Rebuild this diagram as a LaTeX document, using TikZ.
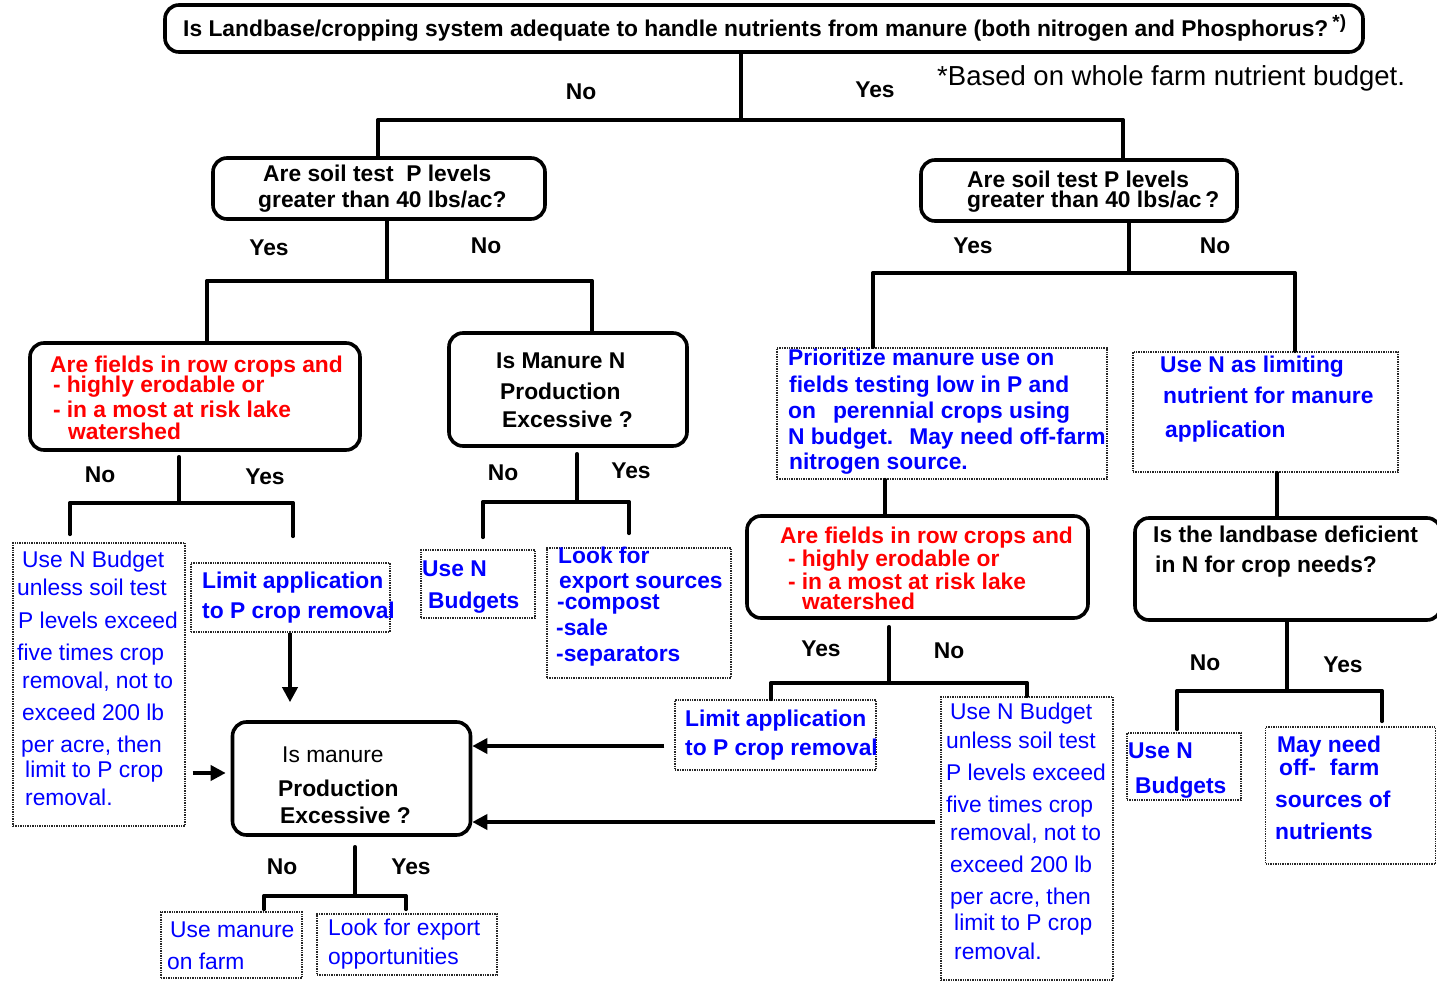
\documentclass[tikz,border=0pt]{standalone}
\usepackage{fontspec}
\setmainfont{Liberation Sans}
\usetikzlibrary{arrows.meta}
\definecolor{tblue}{RGB}{0,0,255}
\definecolor{tred}{RGB}{255,0,0}
\newcommand\TL[5][]{\node[txt,#1] (#2) at (#3,#4) {#5};}
\tikzset{
  txt/.style={anchor=base west, inner sep=0pt, font=\fontsize{22.8}{27}\selectfont},
  tbk/.style={font=\fontsize{22.8}{27}\selectfont\bfseries, text=black},
  tbb/.style={font=\fontsize{22.8}{27}\selectfont\bfseries, text=tblue},
  tbr/.style={font=\fontsize{22.8}{27}\selectfont\bfseries, text=tred},
  trb/.style={font=\fontsize{22.8}{27}\selectfont, text=tblue},
  trk/.style={font=\fontsize{22.8}{27}\selectfont, text=black},
  lab/.style={anchor=base, inner sep=0pt, font=\fontsize{22.8}{27}\selectfont\bfseries},
  rbox/.style={draw, line width=3.6pt, rounded corners=14pt, inner sep=0pt},
  dbox/.style={draw=black!85, line width=1.4pt, densely dotted, inner sep=0pt},
  conn/.style={line width=3.6pt, line cap=round},
  arr/.style={line width=3.6pt, -{Triangle[length=15pt,width=15pt]}},
}
\begin{document}
\begin{tikzpicture}[x=1pt,y=-1pt]
\fill[white] (0,0) rectangle (1437,981);
\useasboundingbox (0,0) rectangle (1437,981);

% ---------- boxes ----------
\node[rbox, minimum width=1198pt, minimum height=47pt] (title) at (764,28.5) {};
\node[rbox, minimum width=332pt, minimum height=61pt] (pL) at (379,188.5) {};
\node[rbox, minimum width=316pt, minimum height=61pt] (pR) at (1079,190.5) {};
\node[rbox, minimum width=330pt, minimum height=107pt] (redL) at (195,396.5) {};
\node[rbox, minimum width=238pt, minimum height=113pt] (manN) at (568,389.5) {};
\node[dbox, minimum width=330pt, minimum height=131pt] (prio) at (942,413.5) {};
\node[dbox, minimum width=265pt, minimum height=120pt] (useNlim) at (1265.5,412) {};
\node[dbox, minimum width=172pt, minimum height=283pt] (budL) at (99,684.5) {};
\node[dbox, minimum width=199pt, minimum height=69pt] (limL) at (290.5,597.5) {};
\node[dbox, minimum width=114pt, minimum height=68pt] (useNm) at (478,584) {};
\node[dbox, minimum width=184pt, minimum height=130pt] (look) at (639,613) {};
\node[rbox, minimum width=341pt, minimum height=102pt] (redR) at (917.5,567) {};
\node[rbox, minimum width=306pt, minimum height=102pt] (land) at (1288,569) {};
\node[dbox, minimum width=201pt, minimum height=70pt] (limR) at (775.5,735) {};
\node[dbox, minimum width=172pt, minimum height=283pt] (budR) at (1027,838.5) {};
\node[dbox, minimum width=114pt, minimum height=67pt] (useNr) at (1184,766.5) {};
\node[dbox, minimum width=170pt, minimum height=137pt] (mayneed) at (1350.5,795.5) {};
\node[rbox, minimum width=238pt, minimum height=113pt] (isman) at (351.5,778.5) {};
\node[dbox, minimum width=141pt, minimum height=66pt] (usem) at (231.5,945) {};
\node[dbox, minimum width=180pt, minimum height=61pt] (lookexp) at (407,944.5) {};

% ---------- texts ----------
\TL[tbk]{tTitle}{183}{36.5}{Is Landbase/cropping system adequate to handle nutrients from manure (both nitrogen and Phosphorus?\hspace{4pt}\raisebox{8pt}{\fontsize{19}{19}\selectfont *)}}
\TL[trk,font=\fontsize{27.5}{32}\selectfont]{tBased}{937}{86}{*Based on whole farm nutrient budget.}

\TL[tbk]{pL1}{263}{182}{Are soil test\ \ P levels}
\TL[tbk]{pL2}{258}{208}{greater than 40 lbs/ac?}
\TL[tbk]{pR1}{967}{188}{Are soil test P levels}
\TL[tbk]{pR2}{967}{208}{greater than 40 lbs/ac\,?}

\TL[tbr]{rL1}{50}{372}{Are fields in row crops and}
\TL[tbr]{rL2}{53}{392}{-\hspace{6pt}highly erodable or}
\TL[tbr]{rL3}{53}{417}{-\hspace{6pt}in a most at risk lake}
\TL[tbr]{rL4}{68}{439}{watershed}

\TL[tbk]{m1}{496}{369}{Is Manure N}
\TL[tbk]{m2}{500}{399}{Production}
\TL[tbk]{m3}{502}{427}{Excessive ?}

\TL[tbb]{pr1}{788}{366}{Prioritize manure use on}
\TL[tbb]{pr2}{789}{392}{fields testing low in P and}
\TL[tbb]{pr3}{788}{418}{on\hspace{17pt}perennial crops using}
\TL[tbb]{pr4}{788}{444}{N budget.\hspace{16pt}May need off-farm}
\TL[tbb]{pr5}{789}{469}{nitrogen source.}

\TL[tbb]{ul1}{1160}{372}{Use N as limiting}
\TL[tbb]{ul2}{1163}{403}{nutrient for manure}
\TL[tbb]{ul3}{1165}{437}{application}

\TL[trb]{bL1}{22}{567}{Use N Budget}
\TL[trb]{bL2}{17}{595}{unless soil test}
\TL[trb]{bL3}{18}{628}{P levels exceed}
\TL[trb]{bL4}{17}{660}{five times crop}
\TL[trb]{bL5}{22}{688}{removal, not to}
\TL[trb]{bL6}{22}{720}{exceed 200 lb}
\TL[trb]{bL7}{21}{752}{per acre, then}
\TL[trb]{bL8}{25}{777}{limit to P crop}
\TL[trb]{bL9}{25}{805}{removal.}

\TL[tbb]{lL1}{202}{588}{Limit application}
\TL[tbb]{lL2}{202}{618}{to P crop removal}

\TL[tbb]{un1}{422}{576}{Use N}
\TL[tbb]{un2}{428}{608}{Budgets}

\TL[tbb]{lk1}{558}{563}{Look for}
\TL[tbb]{lk2}{559}{588}{export sources}
\TL[tbb]{lk3}{557}{609}{-compost}
\TL[tbb]{lk4}{556}{635}{-sale}
\TL[tbb]{lk5}{556}{661}{-separators}

\TL[tbr]{rR1}{780}{543}{Are fields in row crops and}
\TL[tbr]{rR2}{788}{566}{-\hspace{6pt}highly erodable or}
\TL[tbr]{rR3}{788}{589}{-\hspace{6pt}in a most at risk lake}
\TL[tbr]{rR4}{802}{609}{watershed}

\TL[tbk]{ld1}{1153}{542}{Is the landbase deficient}
\TL[tbk]{ld2}{1155}{572}{in N for crop needs?}

\TL[tbb]{lR1}{685}{726}{Limit application}
\TL[tbb]{lR2}{685}{755}{to P crop removal}

\TL[trb]{bR1}{950}{719}{Use N Budget}
\TL[trb]{bR2}{946}{748}{unless soil test}
\TL[trb]{bR3}{946}{780}{P levels exceed}
\TL[trb]{bR4}{946}{812}{five times crop}
\TL[trb]{bR5}{950}{840}{removal, not to}
\TL[trb]{bR6}{950}{872}{exceed 200 lb}
\TL[trb]{bR7}{950}{904}{per acre, then}
\TL[trb]{bR8}{954}{930}{limit to P crop}
\TL[trb]{bR9}{954}{959}{removal.}

\TL[tbb]{ur1}{1128}{758}{Use N}
\TL[tbb]{ur2}{1135}{793}{Budgets}

\TL[tbb]{mn1}{1277}{752}{May need}
\TL[tbb]{mn2}{1279}{775}{off-\hspace{14pt}farm}
\TL[tbb]{mn3}{1275}{807}{sources of}
\TL[tbb]{mn4}{1275}{839}{nutrients}

\TL[trk]{im1}{282}{762}{Is manure}
\TL[tbk]{im2}{278}{796}{Production}
\TL[tbk]{im3}{280}{823}{Excessive ?}

\TL[trb]{um1}{170}{937}{Use manure}
\TL[trb]{um2}{167}{969}{on farm}
\TL[trb]{le1}{328}{935}{Look for export}
\TL[trb]{le2}{328}{964}{opportunities}

% ---------- yes / no labels ----------
\node[lab] (nA) at (581,100) {No};
\node[lab] (yA) at (875,98) {Yes};
\node[lab] (yB) at (269,256) {Yes};
\node[lab] (nB) at (486,254) {No};
\node[lab] (yC) at (973,254) {Yes};
\node[lab] (nC) at (1215,254) {No};
\node[lab] (nD) at (100,482) {No};
\node[lab] (yD) at (265,484) {Yes};
\node[lab] (nE) at (503,480) {No};
\node[lab] (yE) at (631,478) {Yes};
\node[lab] (yF) at (821,656) {Yes};
\node[lab] (nF) at (949,658) {No};
\node[lab] (nG) at (1205,670) {No};
\node[lab] (yG) at (1343,672) {Yes};
\node[lab] (nH) at (282,874) {No};
\node[lab] (yH) at (411,874) {Yes};

% ---------- connectors ----------
\coordinate (j0) at (741,120);
\coordinate (j0L) at (378,120);
\coordinate (j0R) at (1123,120);
\draw[conn] (title.south -| j0) -- (j0);
\draw[conn] (j0L) -- (j0R);
\draw[conn] (j0L) -- (j0L |- pL.north);
\draw[conn] (j0R) -- (j0R |- pR.north);

\coordinate (j1) at (387,281);
\coordinate (j1L) at (207,281);
\coordinate (j1R) at (592,281);
\draw[conn] (pL.south -| j1) -- (j1);
\draw[conn] (j1L) -- (j1R);
\draw[conn] (j1L) -- (j1L |- redL.north);
\draw[conn] (j1R) -- (j1R |- manN.north);

\coordinate (j2) at (1129,273);
\coordinate (j2L) at (873,273);
\coordinate (j2R) at (1295,273);
\draw[conn] (pR.south -| j2) -- (j2);
\draw[conn] (j2L) -- (j2R);
\draw[conn] (j2L) -- (j2L |- prio.north);
\draw[conn] (j2R) -- (j2R |- useNlim.north);

\coordinate (j3) at (179,503);
\coordinate (j3L) at (70,503);
\coordinate (j3R) at (293,503);
\draw[conn] ([yshift=-5pt]redL.south -| j3) -- (j3);
\draw[conn] (j3L) -- (j3R);
\draw[conn] (j3L) -- ([yshift=8pt]j3L |- budL.north);
\draw[conn] (j3R) -- ([yshift=26pt]j3R |- limL.north);

\coordinate (j4) at (577,502);
\coordinate (j4L) at (483,502);
\coordinate (j4R) at (629,502);
\draw[conn] ([yshift=-6pt]manN.south -| j4) -- (j4);
\draw[conn] (j4L) -- (j4R);
\draw[conn] (j4L) -- ([yshift=12pt]j4L |- useNm.north);
\draw[conn] (j4R) -- ([yshift=14pt]j4R |- look.north);

\coordinate (c5) at (885,500);
\draw[conn] (prio.south -| c5) -- (redR.north -| c5);

\coordinate (j6) at (889,683);
\coordinate (j6L) at (771,683);
\coordinate (j6R) at (1027,683);
\draw[conn] ([yshift=-7pt]redR.south -| j6) -- (j6);
\draw[conn] (j6L) -- (j6R);
\draw[conn] (j6L) -- (j6L |- limR.north);
\draw[conn] (j6R) -- (j6R |- budR.north);

\coordinate (c7) at (1277,500);
\draw[conn] (useNlim.south -| c7) -- (land.north -| c7);

\coordinate (j8) at (1287,691);
\coordinate (j8L) at (1177,691);
\coordinate (j8R) at (1382,691);
\draw[conn] (land.south -| j8) -- (j8);
\draw[conn] (j8L) -- (j8R);
\draw[conn] (j8L) -- ([yshift=3pt]j8L |- useNr.north);
\draw[conn] (j8R) -- ([yshift=5pt]j8R |- mayneed.north);

\coordinate (c9) at (290,650);
\draw[arr] (limL.south -| c9) -- ([yshift=18pt]isman.north -| c9);

\coordinate (c10) at (200,773);
\draw[arr] ([xshift=7pt]budL.east |- c10) -- ([xshift=-5pt]isman.west |- c10);

\coordinate (c11) at (600,746);
\draw[arr] ([xshift=-10pt]limR.west |- c11) -- (isman.east |- c11);

\coordinate (c12) at (600,822);
\draw[arr] ([xshift=-5pt]budR.west |- c12) -- (isman.east |- c12);

\coordinate (j13) at (355,896);
\coordinate (j13L) at (264,896);
\coordinate (j13R) at (406,896);
\draw[conn] ([yshift=-10pt]isman.south -| j13) -- (j13);
\draw[conn] (j13L) -- (j13R);
\draw[conn] (j13L) -- ([yshift=2pt]j13L |- usem.north);
\draw[conn] (j13R) -- ([yshift=4pt]j13R |- lookexp.north);
\end{tikzpicture}
\end{document}
